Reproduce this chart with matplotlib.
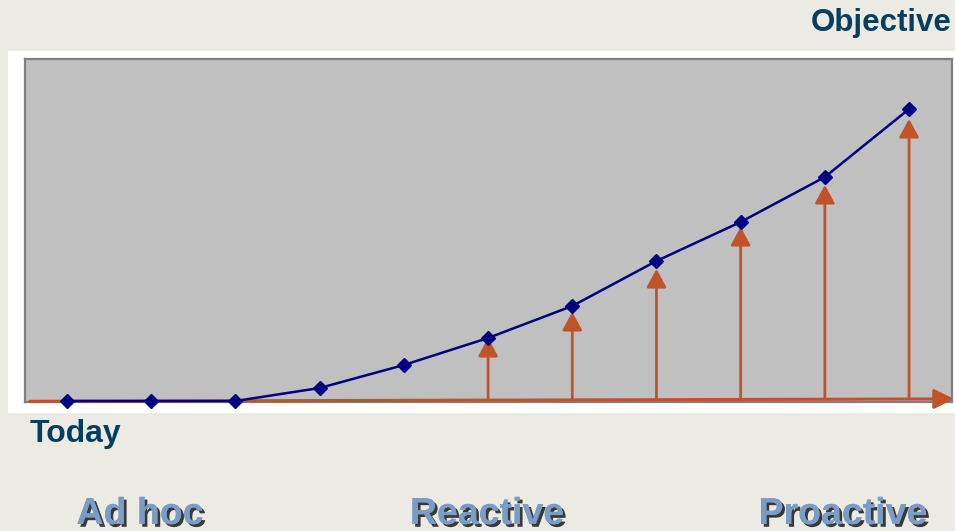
import matplotlib
matplotlib.use("Agg")
import matplotlib.pyplot as plt
from matplotlib.patches import Rectangle, FancyArrowPatch
import matplotlib.patheffects as pe

# ---- data ----
steps = list(range(11))
maturity = [0, 0, 0, 13, 36, 63, 95, 140, 179, 224, 292]
arrow_steps = [5, 6, 7, 8, 9, 10]
arrow_tips = [63, 89, 132, 174, 216, 282]
stage_labels = ["Ad hoc", "Reactive", "Proactive"]
stage_x = [140, 487, 843]  # pixel centres of stage labels

BG = "#ECEBE3"
PLOT_BG = "#C0C0C0"
NAVY = "#000080"
ORANGE = "#C0532A"
TITLE = "#053F60"
STAGE = "#7B9CC5"

W, H = 955, 531
fig = plt.figure(figsize=(W / 100, H / 100), dpi=100)
fig.patch.set_facecolor(BG)

# white panel
fig.patches.append(Rectangle((8 / W, 1 - 413 / H), 1 - 8 / W, (413 - 51) / H,
                             transform=fig.transFigure, facecolor="white",
                             edgecolor="none", zorder=-10))

ax = fig.add_axes([25 / W, 1 - 402 / H, (952 - 25) / W, (402 - 59) / H])
ax.set_zorder(1)
ax.set_facecolor(PLOT_BG)
ax.set_xlim(-0.5, 10.51)
ax.set_ylim(-1, 342)
ax.set_xticks([])
ax.set_yticks([])
for s in ax.spines.values():
    s.set_color("#808080")
    s.set_linewidth(1.6)

# horizontal orange axis arrow (in axes fraction)
ax.add_patch(FancyArrowPatch((0.005, 0.002), (1.002, 0.009),
                             transform=ax.transAxes, clip_on=False,
                             arrowstyle="-|>,head_length=0.6,head_width=0.3",
                             mutation_scale=20, color=ORANGE, lw=2.2,
                             shrinkA=0, shrinkB=0, zorder=3))

# vertical arrows
for xs, tip in zip(arrow_steps, arrow_tips):
    ax.add_patch(FancyArrowPatch((xs, 2), (xs, tip),
                                 arrowstyle="-|>,head_length=0.55,head_width=0.3",
                                 mutation_scale=20, color=ORANGE, lw=2.0,
                                 shrinkA=0, shrinkB=0, zorder=4))

# maturity line
ax.plot(steps, maturity, color=NAVY, lw=1.8, marker="D", markersize=7.5,
        markerfacecolor=NAVY, markeredgecolor=NAVY, zorder=5, clip_on=False)

# texts
fig.text(952 / W, 1 - 23 / H, "Objective", ha="right", va="center",
         fontsize=22.5, fontweight="bold", color=TITLE, family="Liberation Sans")
fig.text(30 / W, 1 - 434 / H, "Today", ha="left", va="center",
         fontsize=23, fontweight="bold", color=TITLE, family="Liberation Sans")

for lab, xp in zip(stage_labels, stage_x):
    fig.text(xp / W, 1 - 524 / H, lab, ha="center", va="baseline",
             fontsize=27, fontweight="bold", color=STAGE, family="Liberation Sans",
             path_effects=[pe.withSimplePatchShadow(offset=(2, -2),
                                                    shadow_rgbFace="#1a1a1a",
                                                    alpha=0.85),
                           pe.Normal()])

fig.savefig("out.png", dpi=100, facecolor=BG)
